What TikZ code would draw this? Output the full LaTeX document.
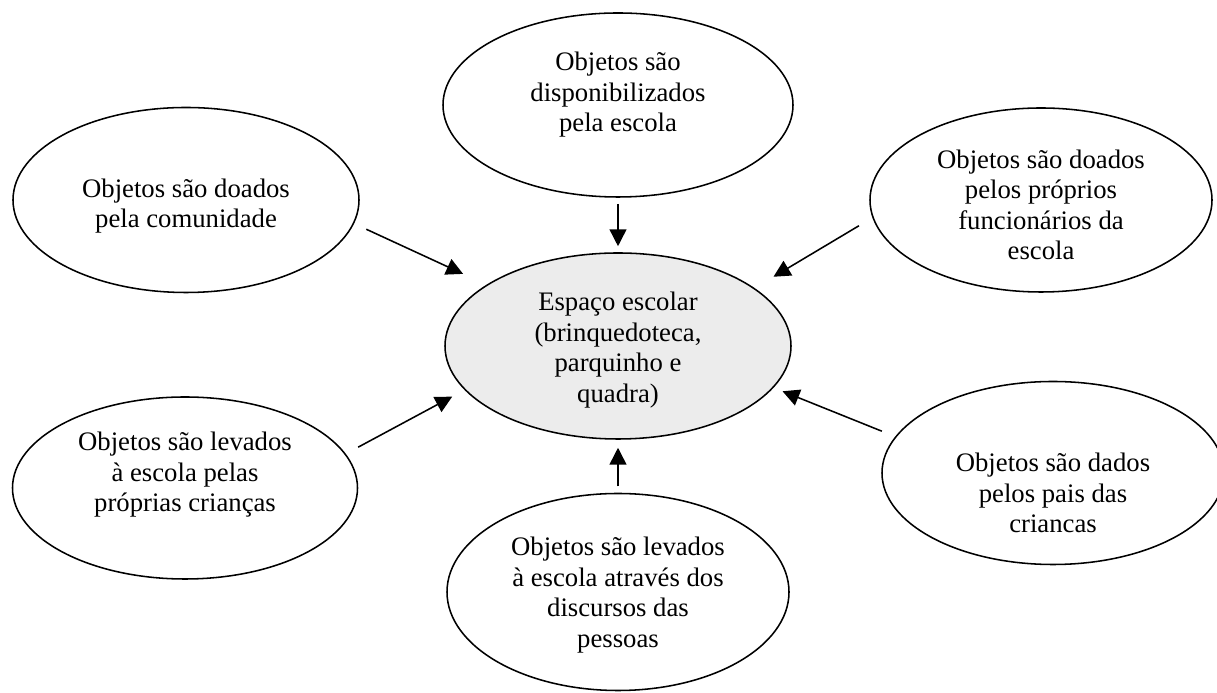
\documentclass[tikz,border=0pt]{standalone}
\usepackage{fontspec}
\setmainfont{Liberation Serif}
\usetikzlibrary{arrows.meta, shapes.geometric}

\tikzset{
  bolha/.style={draw, ellipse, line width=1.1pt, minimum width=8.6cm, minimum height=4.6cm, inner sep=0pt},
  texto/.style={align=center, font=\fontsize{19}{21.7}\selectfont},
  seta/.style={-{Triangle[length=0.42cm,width=0.42cm]}, line width=1.1pt}
}

\begin{document}
\begin{tikzpicture}
\useasboundingbox (0,0) rectangle (30.425,17.325);

% as bolhas
\node[bolha, minimum width=8.75cm] (topo) at (15.45,14.7) {};
\node[bolha, minimum width=8.65cm, minimum height=4.625cm] (comunidade) at (4.65,12.325) {};
\node[bolha, minimum width=8.55cm] (funcionarios) at (26.025,12.325) {};
\node[bolha, fill=gray!15, minimum width=8.65cm, minimum height=4.65cm] (espaco) at (15.45,8.675) {};
\node[bolha, minimum width=8.625cm, minimum height=4.55cm] (criancas) at (4.625,5.125) {};
\node[bolha, minimum width=8.55cm, minimum height=4.575cm] (pais) at (26.325,5.5) {};
\node[bolha, minimum width=8.55cm, minimum height=4.925cm] (discursos) at (15.45,2.525) {};

% os textos
\node[texto] (topo-txt) at ([yshift=0.25cm]topo) {Objetos são\\disponibilizados\\pela escola};
\node[texto] (comunidade-txt) at ([yshift=-0.15cm]comunidade) {Objetos são doados\\pela comunidade};
\node[texto] (funcionarios-txt) at ([yshift=-0.125cm]funcionarios) {Objetos são doados\\pelos próprios\\funcionários da\\escola};
\node[texto] (espaco-txt) at ([yshift=-0.1cm]espaco) {Espaço escolar\\(brinquedoteca,\\parquinho e\\quadra)};
\node[texto] (criancas-txt) at ([yshift=0.325cm]criancas) {Objetos são levados\\à escola pelas\\próprias crianças};
\node[texto] (pais-txt) at ([yshift=-0.5cm]pais) {Objetos são dados\\pelos pais das\\criancas};
\node[texto] (discursos-txt) at ([yshift=-0.075cm]discursos) {Objetos são levados\\à escola através dos\\discursos das\\pessoas};

% as setas
\draw[seta, shorten <=0.15cm, shorten >=0.15cm] (topo) -- (espaco);
\draw[seta, shorten <=0.335cm, shorten >=0.645cm] (comunidade.-8.4) -- (espaco.155.3);
\draw[seta, shorten <=0.39cm, shorten >=0.55cm] (funcionarios.186.2) -- (espaco.23.8);
\draw[seta, shorten <=0.35cm, shorten >=0.35cm] (criancas.12.3) -- (espaco.196.9);
\draw[seta, shorten <=0.36cm, shorten >=0.24cm] (pais.167.3) -- (espaco.-15.4);
\draw[seta, shorten <=0.16cm, shorten >=0.2cm] (discursos) -- (espaco);
\end{tikzpicture}
\end{document}
